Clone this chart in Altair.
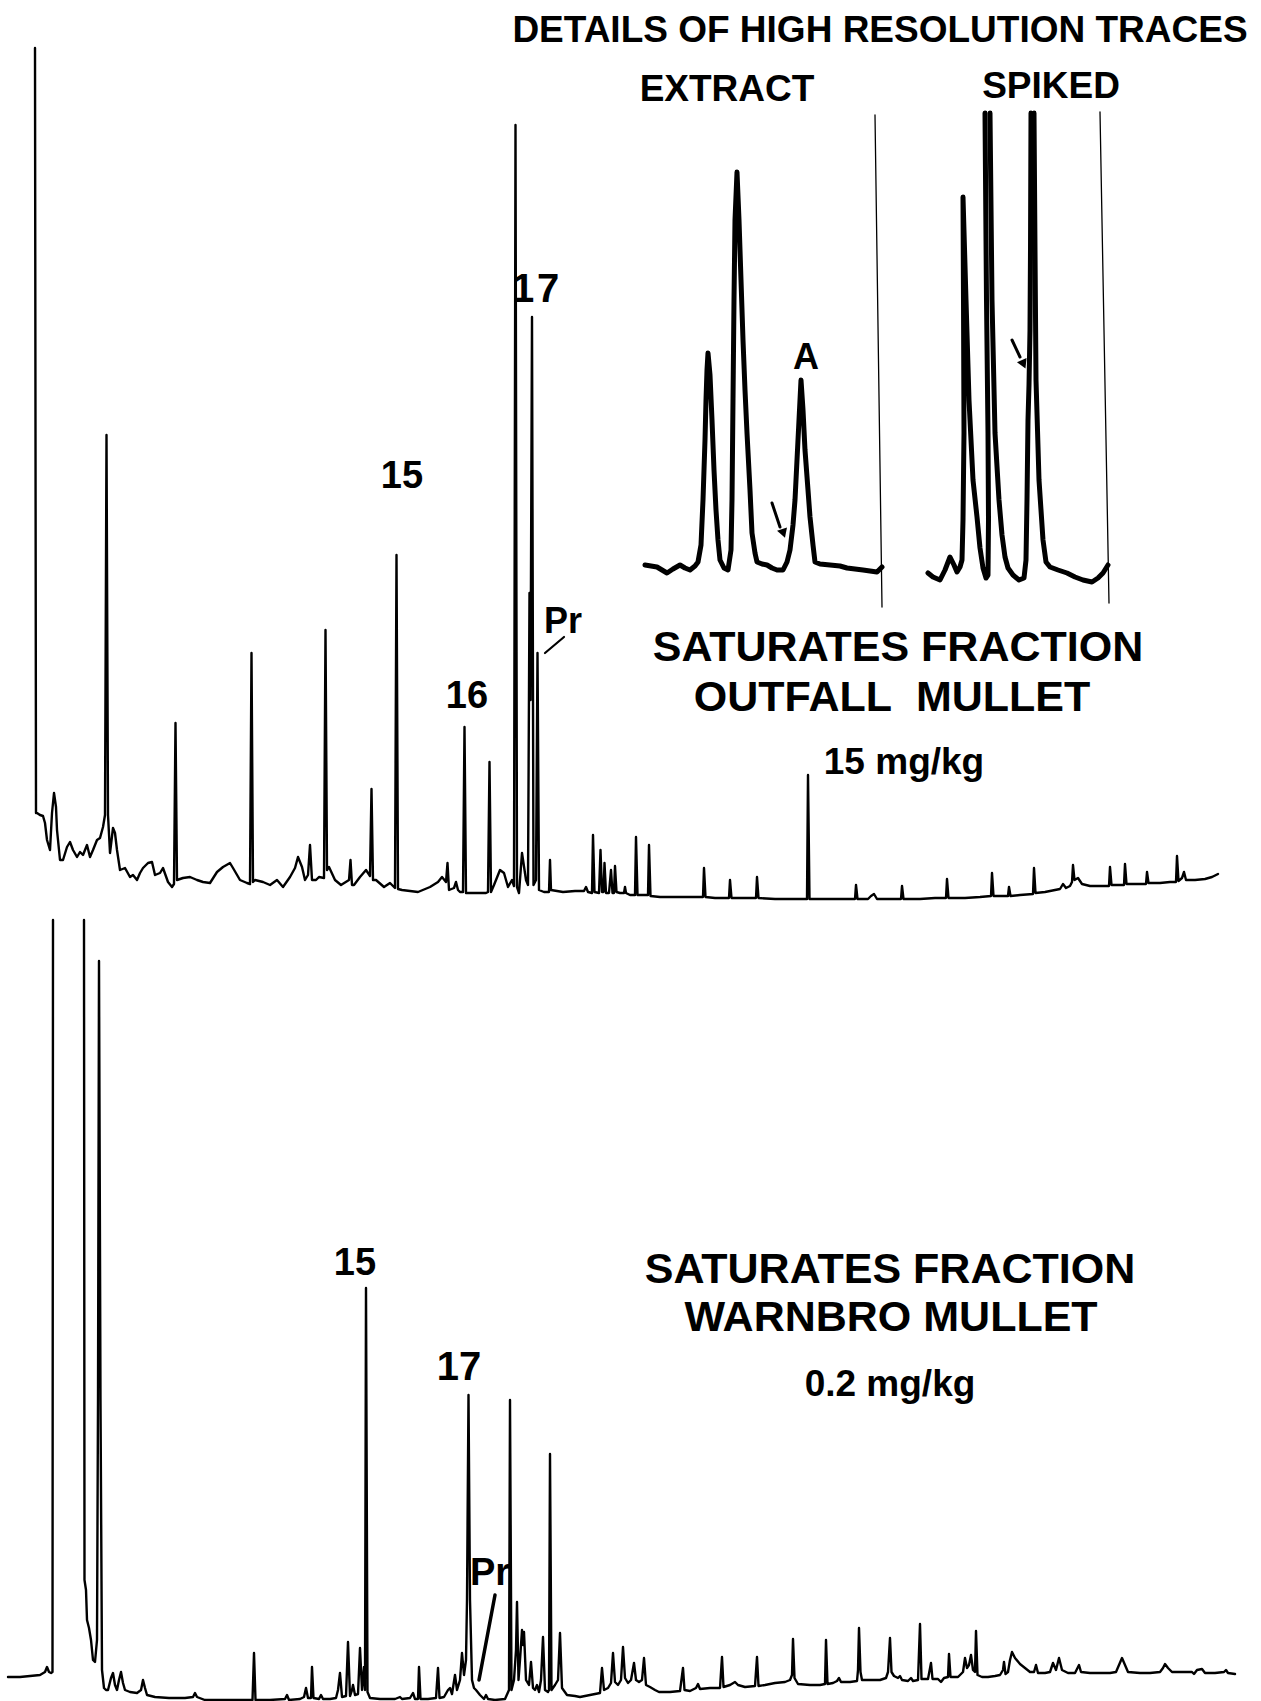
import altair as alt
import pandas as pd

W, H = 1261, 1701

# ---------------- data ----------------
# Each vertex: (retention position along the chart, pen reading on the chart paper)
# Pen readings are converted to detector response above each trace's zero line.

OUTFALL_ZERO = 905
outfall_trace = [
    (35, 48), (36, 813), (37, 813), (40, 815), (43, 816), (45, 823), (47, 840), (50, 850),
    (52, 813), (54, 793), (56, 807), (57, 830), (60, 860), (63, 860), (67, 847), (70, 842),
    (73, 850), (77, 857), (80, 852), (83, 855), (87, 845), (90, 857), (93, 850), (97, 840),
    (100, 838), (103, 827), (105, 815), (106.5, 435), (108, 815), (110, 853), (113, 828),
    (115, 833), (117, 850), (120, 870), (125, 868), (130, 877), (133, 875), (137, 880),
    (140, 873), (143, 868), (148, 863), (152, 862), (155, 875), (160, 873), (163, 868),
    (168, 882), (172, 887), (174, 884), (175.5, 723), (177, 880), (183, 878), (190, 877),
    (197, 880), (203, 882), (210, 883), (217, 872), (223, 867), (230, 863), (233, 868),
    (240, 880), (247, 883), (250, 884), (251.5, 653), (253, 882), (255, 880), (263, 882),
    (270, 885), (277, 880), (283, 887), (290, 877), (295, 868), (298, 857), (302, 867),
    (305, 880), (308, 875), (310, 845), (312, 880), (316, 880), (319, 877), (324, 878),
    (325.5, 630), (327, 870), (329, 867), (335, 880), (341, 885), (349, 880), (350.5, 860),
    (352, 885), (354, 885), (360, 877), (366, 870), (370, 876), (371.5, 789), (373, 880),
    (376, 880), (384, 887), (390, 883), (395, 888), (396.5, 555), (398, 889), (402, 890),
    (418, 892), (430, 887), (438, 882), (442, 877), (446, 882), (447.5, 863), (449, 890),
    (454, 888), (456, 882), (458, 890), (460, 892), (463, 892), (464.5, 727), (466, 893),
    (470, 893), (486, 893), (488, 892), (489.5, 762), (491, 892), (494, 885), (500, 870),
    (504, 873), (508, 887), (512, 880), (514, 886), (515.5, 125), (517, 887), (519, 893),
    (522, 853), (526, 880), (528, 885), (529.5, 593), (530.5, 700), (532, 317), (533.5, 885),
    (536, 880), (537.5, 653), (539, 890), (544, 892), (549, 892), (550, 860), (551, 890),
    (563, 892), (575, 891), (584, 891), (586, 887), (588, 892), (592, 893), (593, 835),
    (594.5, 892), (599, 893), (600.5, 850), (602, 892), (603.5, 892), (604.5, 863), (606, 893),
    (609, 893), (611, 870), (612.5, 893), (614, 893), (615, 866), (616.5, 892), (620, 893),
    (624, 893), (625, 887), (626, 893), (630, 895), (635, 895), (636, 837), (637.5, 895),
    (643, 895), (648, 895), (649, 845), (650.5, 896), (660, 897), (675, 897), (690, 897),
    (703, 897), (704, 868), (705.5, 897), (715, 898), (729, 898), (730, 880), (731.5, 898),
    (745, 898), (756, 898), (757, 877), (758.5, 898), (775, 899), (795, 899), (807, 899),
    (808, 775), (809.5, 899), (830, 899), (845, 899), (855, 899), (856, 885), (857.5, 899),
    (868, 899), (871, 896), (874, 894), (877, 899), (890, 899), (901, 899), (902, 886),
    (903.5, 899), (920, 899), (935, 898), (946, 898), (947, 879), (948.5, 898), (965, 898),
    (980, 897), (991, 896), (992, 873), (993.5, 896), (1000, 896), (1008, 896), (1009, 887),
    (1010.5, 896), (1020, 895), (1033, 894), (1034, 868), (1035.5, 893), (1045, 892),
    (1055, 890), (1060, 889), (1063, 884), (1066, 888), (1070, 886), (1072, 882), (1073, 865),
    (1074.5, 880), (1078, 878), (1082, 884), (1090, 886), (1100, 886), (1109, 886), (1110, 867),
    (1111.5, 885), (1118, 885), (1124, 885), (1125, 864), (1126.5, 884), (1135, 884),
    (1146, 884), (1147, 872), (1148.5, 883), (1160, 883), (1170, 882), (1176, 882), (1177, 856),
    (1178.5, 881), (1182, 878), (1184, 872), (1186, 880), (1195, 880), (1205, 879), (1212, 877),
    (1218, 874),
]

WARNBRO_ZERO = 1705
# first solvent peak runs off the top of the chart paper -> two pieces
warnbro_trace_a = [
    (8, 1677), (20, 1677), (30, 1676), (40, 1675), (45, 1672), (47, 1667), (49, 1672),
    (51, 1673), (52.5, 1672), (53, 920),
]
warnbro_trace_b = [
    (84, 920), (84.5, 1580), (86, 1590), (87, 1620), (89, 1628), (91, 1640), (93, 1660),
    (95, 1662), (97, 1640), (98, 1400), (99, 961), (100.5, 1400), (102, 1670), (104, 1688),
    (106, 1690), (108, 1690), (111, 1678), (113, 1673), (115, 1685), (117, 1690), (119, 1680),
    (121, 1672), (123, 1683), (125, 1690), (130, 1692), (137, 1693), (141, 1690), (143, 1680),
    (145, 1688), (147, 1695), (155, 1697), (169, 1698), (185, 1698), (193, 1697), (195, 1693),
    (197, 1697), (205, 1700), (230, 1700), (252.5, 1700), (254, 1653), (255.5, 1700),
    (270, 1700), (285, 1699), (287, 1695), (289, 1700), (300, 1699), (304, 1697), (306, 1688),
    (308, 1698), (311, 1698), (312, 1667), (313.5, 1698), (319, 1699), (321, 1695), (323, 1699),
    (330, 1699), (336, 1698), (338, 1690), (340, 1673), (342, 1697), (346, 1696), (348, 1642),
    (350, 1696), (352, 1690), (353, 1685), (355, 1695), (358, 1694), (360, 1648), (362, 1690),
    (364, 1667), (365, 1690), (366, 1288), (367.5, 1692), (370, 1698), (380, 1699), (395, 1699),
    (400, 1697), (402, 1699), (410, 1698), (413, 1693), (415, 1699), (418, 1699), (419, 1667),
    (420.5, 1699), (428, 1699), (436, 1698), (438, 1668), (439.5, 1698), (444, 1697),
    (448, 1690), (450, 1688), (452, 1694), (455, 1675), (457, 1690), (460, 1680), (462, 1653),
    (464, 1675), (466, 1660), (467, 1600), (468.5, 1395), (470, 1600), (472, 1680), (474, 1688),
    (476, 1690), (480, 1695), (484, 1699), (486, 1695), (488, 1699), (495, 1700), (505, 1699),
    (509, 1690), (510, 1400), (511.5, 1690), (514, 1680), (516, 1650), (517, 1602),
    (518.5, 1680), (520, 1660), (522, 1630), (523, 1645), (524, 1632), (526, 1680), (529, 1685),
    (531, 1662), (533, 1688), (535, 1690), (537, 1685), (539, 1692), (541, 1680), (543, 1637),
    (545, 1690), (548, 1692), (549, 1690), (550, 1454), (551.5, 1690), (555, 1685), (558, 1680),
    (560, 1633), (562, 1688), (567, 1695), (575, 1696), (580, 1697), (590, 1695), (600, 1693),
    (602, 1668), (604, 1690), (608, 1688), (611, 1683), (613, 1653), (615, 1682), (618, 1685),
    (621, 1680), (623, 1647), (625, 1678), (628, 1683), (631, 1680), (634, 1663), (636, 1680),
    (639, 1682), (642, 1680), (644, 1658), (646, 1685), (650, 1687), (655, 1690), (659, 1692),
    (670, 1692), (680, 1691), (683, 1668), (684.5, 1690), (690, 1691), (696, 1688), (698, 1684),
    (700, 1689), (710, 1688), (720, 1688), (722, 1657), (723.5, 1687), (730, 1685), (735, 1682),
    (738, 1685), (745, 1687), (755, 1686), (757, 1657), (758.5, 1686), (765, 1685), (775, 1683),
    (785, 1682), (790, 1680), (792, 1675), (793, 1639), (794.5, 1678), (798, 1684), (810, 1685),
    (820, 1685), (825, 1684), (826, 1640), (827.5, 1684), (833, 1683), (837, 1681), (839, 1678),
    (841, 1682), (850, 1682), (857, 1681), (858, 1670), (859, 1628), (860.5, 1672), (862, 1680),
    (870, 1680), (880, 1680), (886, 1678), (888, 1672), (890, 1638), (891.5, 1672), (894, 1676),
    (898, 1678), (900, 1676), (902, 1680), (908, 1681), (911, 1678), (913, 1681), (918, 1680),
    (920, 1624), (921.5, 1679), (928, 1679), (931, 1663), (932.5, 1679), (938, 1679),
    (941, 1682), (944, 1678), (948, 1677), (949, 1654), (950.5, 1677), (958, 1677), (963, 1672),
    (965, 1658), (967, 1668), (969, 1665), (971, 1655), (973, 1670), (975, 1672), (976, 1631),
    (977.5, 1675), (982, 1677), (988, 1677), (995, 1676), (1000, 1675), (1003, 1670),
    (1004, 1662), (1005.5, 1674), (1008, 1672), (1010, 1660), (1012, 1652), (1015, 1658),
    (1020, 1664), (1025, 1668), (1030, 1672), (1034, 1672), (1036, 1665), (1038, 1673),
    (1045, 1673), (1050, 1672), (1053, 1663), (1056, 1670), (1059, 1658), (1062, 1670),
    (1068, 1673), (1075, 1673), (1079, 1665), (1081, 1672), (1090, 1673), (1100, 1673),
    (1110, 1673), (1116, 1672), (1119, 1665), (1122, 1658), (1125, 1665), (1128, 1672),
    (1140, 1673), (1150, 1673), (1160, 1672), (1163, 1668), (1165, 1664), (1168, 1668),
    (1172, 1672), (1185, 1672), (1192, 1672), (1194, 1674), (1197, 1670), (1202, 1669),
    (1205, 1673), (1215, 1673), (1224, 1672), (1226, 1670), (1228, 1673), (1235, 1674),
]

INSET_ZERO = 590
extract_trace = [
    (645, 565), (651, 566), (657, 567), (662, 570), (667, 573), (673, 569), (680, 565),
    (685, 568), (690, 570), (695, 566), (698, 562), (701, 545), (703, 500), (705, 440),
    (706, 400), (707, 370), (708, 353), (710, 375), (712, 420), (714, 470), (716, 510),
    (718, 540), (720, 560), (724, 568), (728, 570), (731, 550), (732, 500), (733, 400),
    (734, 300), (735, 220), (737, 172), (739, 220), (741, 280), (743, 340), (745, 390),
    (747, 433), (750, 490), (752, 533), (755, 553), (757, 562), (762, 564), (767, 565),
    (772, 568), (777, 570), (783, 570), (787, 562), (790, 550), (793, 525), (795, 500),
    (797, 460), (799, 420), (801, 380), (803, 410), (805, 450), (808, 490), (810, 517),
    (813, 545), (815, 562), (820, 564), (830, 565), (840, 566), (847, 568), (855, 569),
    (863, 570), (870, 571), (877, 572), (882, 567),
]
# spiked trace: two peaks go off the top of the chart paper -> three pieces
spiked_trace_a = [
    (928, 573), (933, 577), (940, 580), (945, 570), (950, 557), (954, 565), (957, 572),
    (960, 567), (962, 560), (963, 520), (964, 433), (963.5, 300), (963, 197), (966, 300),
    (969, 400), (973, 480), (977, 517), (980, 548), (983, 568), (986, 578), (988, 575),
    (988.5, 520), (988, 433), (986.5, 300), (985, 113),
]
spiked_trace_b = [
    (990, 113), (992, 300), (995, 433), (999, 500), (1002, 535), (1005, 557), (1008, 568),
    (1013, 575), (1019, 580), (1024, 578), (1026, 560), (1027, 500), (1028, 420), (1029, 385),
    (1030, 330), (1030.5, 250), (1031, 113),
]
spiked_trace_c = [
    (1034, 113), (1035, 250), (1036, 380), (1039, 480), (1043, 540), (1046, 562), (1050, 567),
    (1058, 570), (1067, 573), (1075, 577), (1083, 580), (1092, 582), (1098, 578), (1103, 573),
    (1108, 565),
]


# ---------------- helpers ----------------
def trace_frame(pieces, zero):
    rows = []
    i = 0
    for s, piece in enumerate(pieces):
        for rt, pen in piece:
            rows.append({"rt": rt, "resp": zero - pen, "i": i, "seg": s})
            i += 1
    return pd.DataFrame(rows)


def trace_layer(pieces, zero, width):
    df = trace_frame(pieces, zero)
    return alt.Chart(df).mark_line(
        color="black", strokeWidth=width, strokeJoin="round", strokeCap="round"
    ).encode(
        x=alt.X("rt:Q", scale=alt.Scale(domain=[0, W], range=[0, W], nice=False, zero=False), axis=None),
        y=alt.Y("resp:Q", scale=alt.Scale(domain=[0, zero], range=[zero, 0], nice=False, zero=False), axis=None),
        order="i:Q",
        detail="seg:N",
    )


SANS = "Liberation Sans, Arial, Helvetica, sans-serif"


def text_layer(txt, x, y, size, font=SANS):
    return alt.Chart(pd.DataFrame({"t": [txt]})).mark_text(
        font=font, fontSize=size, fontWeight="bold", align="center", baseline="middle", color="black"
    ).encode(x=alt.value(x), y=alt.value(y), text="t:N")


def rule_layer(x, y, x2, y2, width):
    return alt.Chart(pd.DataFrame({"k": [0]})).mark_rule(
        color="black", strokeWidth=width, strokeCap="round"
    ).encode(x=alt.value(x), y=alt.value(y), x2=alt.value(x2), y2=alt.value(y2))


def head_layer(x, y, angle, size):
    return alt.Chart(pd.DataFrame({"k": [0]})).mark_point(
        shape="triangle", angle=angle, filled=True, size=size, color="black", opacity=1
    ).encode(x=alt.value(x), y=alt.value(y))


layers = [
    trace_layer([outfall_trace], OUTFALL_ZERO, 2.4),
    trace_layer([warnbro_trace_a, warnbro_trace_b], WARNBRO_ZERO, 2.4),
    trace_layer([extract_trace], INSET_ZERO, 5),
    trace_layer([spiked_trace_a, spiked_trace_b, spiked_trace_c], INSET_ZERO, 5),
    # inset frame edges
    rule_layer(875, 115, 882, 607, 1.3),
    rule_layer(1100, 112, 1109, 603, 1.3),
    # arrows in the inset traces
    rule_layer(772, 503, 780, 527, 3),
    head_layer(783, 532, 161, 110),
    rule_layer(1012, 340, 1020, 357, 3),
    head_layer(1023, 363, 156, 110),
    # Pr leader lines
    rule_layer(545, 653, 564, 637, 2.2),
    rule_layer(495, 1595, 479, 1680, 3.5),
]

labels = [
    ("DETAILS OF HIGH RESOLUTION TRACES", 880, 31, 37),
    ("EXTRACT", 727, 90, 37),
    ("SPIKED", 1051, 87, 37),
    ("A", 806, 358, 36),
    ("15", 402, 477, 38),
    ("16", 467, 697, 38),
    ("1", 523, 290, 40),
    ("7", 548, 290, 40),
    ("Pr", 563, 622, 36),
    ("SATURATES FRACTION", 898, 648, 43),
    ("OUTFALL\u00a0\u00a0MULLET", 892, 698, 43),
    ("15 mg/kg", 904, 763, 37),
    ("15", 355, 1264, 38),
    ("17", 459, 1368, 40),
    ("Pr", 490, 1574, 38),
    ("SATURATES FRACTION", 890, 1270, 43),
    ("WARNBRO MULLET", 891, 1318, 43),
    ("0.2 mg/kg", 890, 1385, 37),
]
for t, x, y, s in labels:
    layers.append(text_layer(t, x, y, s))

chart = alt.layer(*layers).resolve_scale(x="independent", y="independent").properties(
    width=W, height=H, padding=0, autosize=alt.AutoSizeParams(type="none"), background="white"
).configure_view(strokeWidth=0)

chart.save("out.html", embed_options={"renderer": "svg", "actions": False})
